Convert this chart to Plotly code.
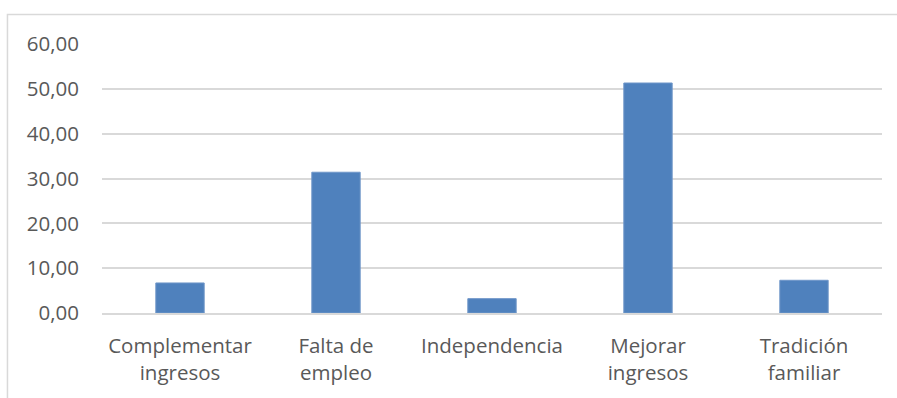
import plotly.graph_objects as go

# Motivos y porcentajes
categorias = ["Complementar ingresos", "Falta de empleo", "Independencia",
              "Mejorar ingresos", "Tradición familiar"]
etiquetas = ["Complementar<br>ingresos", "Falta de<br>empleo", "Independencia",
             "Mejorar<br>ingresos", "Tradición<br>familiar"]
porcentajes = [6.70, 31.40, 3.20, 51.30, 7.30]
marcas_y = [0, 10, 20, 30, 40, 50, 60]

fig = go.Figure(
    go.Bar(
        x=categorias,
        y=porcentajes,
        marker=dict(color="#4f81bd", line=dict(color="#6f96c9", width=1)),
        hoverinfo="x+y",
    )
)

fig.update_layout(
    width=897,
    height=398,
    margin=dict(l=102, r=15, t=44, b=85),
    paper_bgcolor="white",
    plot_bgcolor="white",
    separators=", ",
    bargap=0.69,
    showlegend=False,
    font=dict(family="Open Sans", size=20.5, color="#595959"),
    xaxis=dict(
        tickmode="array",
        tickvals=categorias,
        ticktext=etiquetas,
        showline=True,
        linecolor="#d9d9d9",
        linewidth=1.5,
        showgrid=False,
        ticks="",
        ticklabelstandoff=14,
    ),
    yaxis=dict(
        range=[0, 60],
        tickmode="array",
        tickvals=marcas_y,
        tickformat=".2f",
        showgrid=True,
        gridcolor="#d9d9d9",
        gridwidth=1.5,
        zeroline=False,
        showline=False,
        ticks="",
        ticklabelstandoff=22,
    ),
    shapes=[
        dict(
            type="rect",
            xref="paper",
            yref="paper",
            x0=-0.1212,
            x1=1.05,
            y0=-0.4,
            y1=1.110,
            line=dict(color="#d9d9d9", width=1.5),
            fillcolor="rgba(0,0,0,0)",
            layer="below",
        )
    ],
)

fig.write_html("out.html")
